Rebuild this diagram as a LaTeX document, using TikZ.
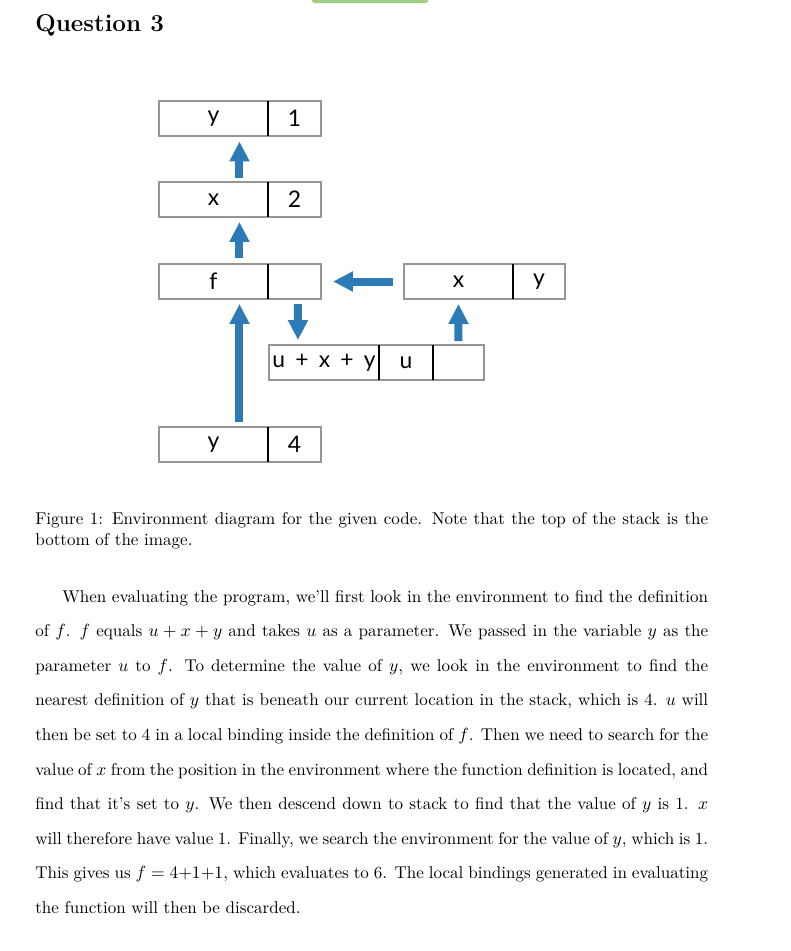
\documentclass[tikz,border=0pt]{standalone}
\usepackage{amsmath}
\usepackage{fontspec}
\usepackage{tikz}
\usetikzlibrary{arrows.meta,positioning}
\newfontfamily\boxfont{Lato}
\definecolor{stackblue}{RGB}{44,123,182}
\definecolor{framegray}{RGB}{150,150,150}
\definecolor{tabgreen}{RGB}{160,206,130}
\tikzstyle{arrow} = [line width=0.16cm,draw=stackblue,-{Triangle[length=0.4cm,width=0.38cm]}]
\tikzstyle{divider} = [line width=0.9pt,draw=black]

\begin{document}
\begin{tikzpicture}[x=0.02cm,y=-0.02cm,
			cell/.style={rectangle, draw=framegray, line width=0.9pt, outer sep=0pt, inner sep=0pt, minimum height=0.7cm, font=\boxfont\fontsize{13}{15}\selectfont},
			namecell/.style={cell, minimum width=2.18cm},
			valcell/.style={cell, minimum width=1.06cm}]
			\useasboundingbox (0,0) rectangle (791,951);
			
			\fill[tabgreen,rounded corners=1pt] (312,-3) rectangle (428,3);
			
			\node[anchor=base west,inner sep=0pt,font=\fontsize{13.8}{17}\selectfont\bfseries] (title) at (35,31) {Question 3};
			
			% stack frames, left column
			\node[namecell] (yname) at (213.5,118.5) {y};
			\node[valcell,right=0pt of yname] (yval) {1};
			
			\node[namecell] (xname) at (213.5,199.5) {x};
			\node[valcell,right=0pt of xname] (xval) {2};
			
			\node[namecell] (fname) at (213.5,281.5) {f};
			\node[valcell,right=0pt of fname] (fval) {};
			
			\node[namecell] (ynname) at (213.5,444.5) {y};
			\node[valcell,right=0pt of ynname] (ynval) {4};
			
			% closure environment
			\node[namecell] (xyname) at (458.5,281.5) {x};
			\node[valcell,minimum width=1.04cm,right=0pt of xyname] (xyval) {y};
			
			% function body
			\node[cell,minimum width=2.2cm] (ubody) at (324,362.5) {u\hspace{0.45em}+\hspace{0.45em}x\hspace{0.45em}+\hspace{0.45em}y};
			\node[cell,minimum width=1.08cm,right=0pt of ubody] (uparam) {u};
			\node[cell,minimum width=1.02cm,right=0pt of uparam] (uenv) {};
			
			\draw[divider] (yname.north east) -- (yname.south east);
			\draw[divider] (xname.north east) -- (xname.south east);
			\draw[divider] (fname.north east) -- (fname.south east);
			\draw[divider] (ynname.north east) -- (ynname.south east);
			\draw[divider] (xyname.north east) -- (xyname.south east);
			\draw[divider] (ubody.north east) -- (ubody.south east);
			\draw[divider] (uparam.north east) -- (uparam.south east);
			
			\draw[arrow,shorten <=0.08cm,shorten >=0.11cm] ([xshift=0.52cm]xname.north) -- ([xshift=0.52cm]yname.south);
			\draw[arrow,shorten <=0.12cm,shorten >=0.1cm] ([xshift=0.52cm]fname.north) -- ([xshift=0.52cm]xname.south);
			\draw[arrow,shorten <=0.1cm,shorten >=0.1cm] ([xshift=0.52cm]ynname.north) -- ([xshift=0.52cm]fname.south);
			\draw[arrow,shorten <=0.22cm,shorten >=0.24cm] (xyname.west) -- (fval.east);
			\draw[arrow,shorten <=0.1cm,shorten >=0.1cm] ([xshift=0.07cm]fval.south) -- ([xshift=-0.52cm]ubody.north);
			\draw[arrow,shorten <=0.08cm,shorten >=0.1cm] (uenv.north) -- (xyname.south);
			
			\node[anchor=base west,inner sep=0pt,text width=13.46cm,align=justify,font=\fontsize{9.7}{11.95}\selectfont] (caption) at (35,524)
			{Figure 1: Environment diagram for the given code. Note that the top of the stack is the\linebreak bottom of the image.};
			
			\node[anchor=base west,inner sep=0pt,text width=13.46cm,align=justify,font=\fontsize{9.7}{19.7}\selectfont] (body) at (35,602)
			{\hspace*{0.54cm}When evaluating the program, we'll first look in the environment to find the definition\linebreak
			of $f$. $f$ equals $u+x+y$ and takes $u$ as a parameter. We passed in the variable $y$ as the\linebreak
			parameter $u$ to $f$. To determine the value of $y$, we look in the environment to find the\linebreak
			nearest definition of $y$ that is beneath our current location in the stack, which is 4. $u$ will\linebreak
			then be set to 4 in a local binding inside the definition of $f$. Then we need to search for the\linebreak
			value of $x$ from the position in the environment where the function definition is located, and\linebreak
			find that it's set to $y$. We then descend down to stack to find that the value of $y$ is 1. $x$\linebreak
			will therefore have value 1. Finally, we search the environment for the value of $y$, which is 1.\linebreak
			This gives us $f=4{+}1{+}1$, which evaluates to 6. The local bindings generated in evaluating\linebreak
			the function will then be discarded.};
			
\end{tikzpicture}
\end{document}
